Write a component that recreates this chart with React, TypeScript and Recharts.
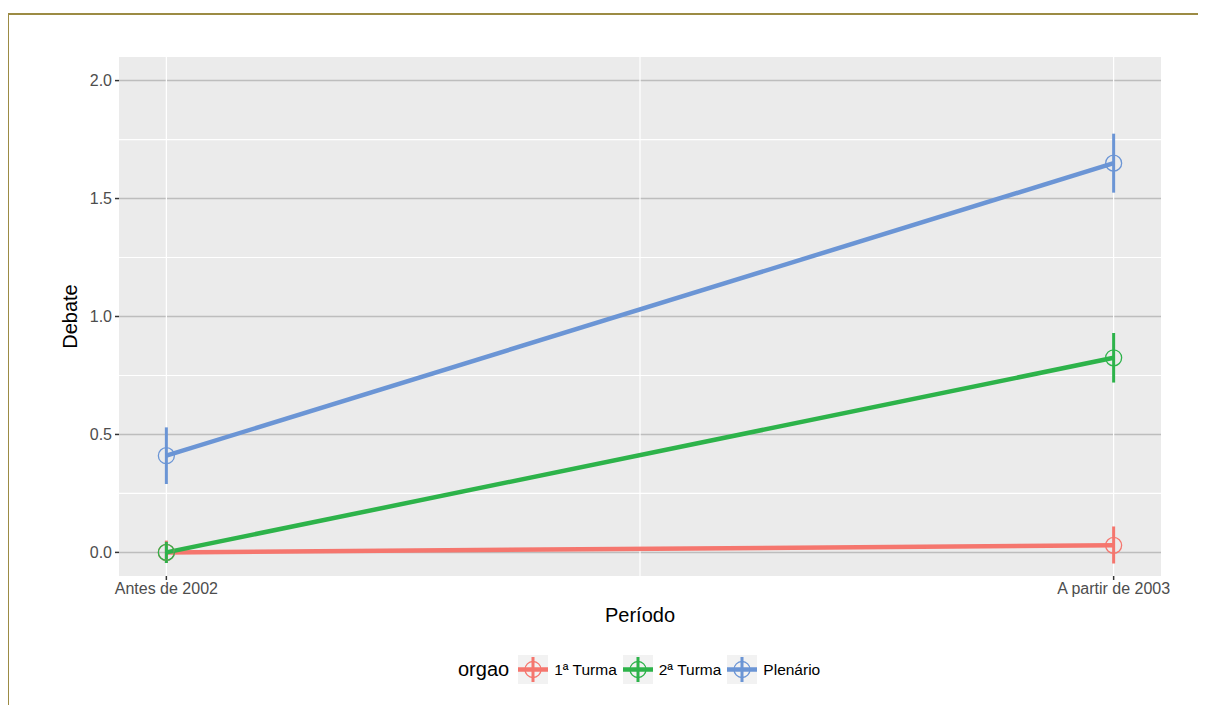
import React from "react";
import {
  ComposedChart,
  Line,
  XAxis,
  YAxis,
  CartesianGrid,
  ErrorBar,
} from "recharts";

// categories (x positions 0 and 1 on a numeric axis)
const periods = ["Antes de 2002", "A partir de 2003"];

// series values + confidence bounds
const turma1 = [0, 0.03];
const turma1Lo = [-0.045, -0.047];
const turma1Hi = [0.05, 0.11];

const turma2 = [0, 0.825];
const turma2Lo = [-0.045, 0.72];
const turma2Hi = [0.045, 0.93];

const plenario = [0.41, 1.65];
const plenarioLo = [0.29, 1.525];
const plenarioHi = [0.53, 1.775];

const yTicks = [0, 0.5, 1, 1.5, 2];
const yMinor = [0.25, 0.75, 1.25, 1.75];

const FONT = "'Liberation Sans', Arial, Helvetica, sans-serif";

const series = [
  { name: "1ª Turma", color: "#F5766E", vals: turma1, lo: turma1Lo, hi: turma1Hi },
  { name: "2ª Turma", color: "#2DB34A", vals: turma2, lo: turma2Lo, hi: turma2Hi },
  { name: "Plenário", color: "#6B95D5", vals: plenario, lo: plenarioLo, hi: plenarioHi },
];

function buildData(vals: number[], lo: number[], hi: number[]) {
  return vals.map((v, i) => ({
    x: i,
    y: v,
    err: [v - lo[i], hi[i] - v],
  }));
}

function LegendKey({ color }: { color: string }) {
  return (
    <svg width={30} height={29} style={{ display: "block" }}>
      <rect x={0} y={0} width={30} height={29} fill="#f2f2f2" />
      <line x1={0} x2={30} y1={14.5} y2={14.5} stroke={color} strokeWidth={4.5} />
      <line x1={15} x2={15} y1={2} y2={27} stroke={color} strokeWidth={3} />
      <circle cx={15} cy={14.5} r={8} fill="none" stroke={color} strokeWidth={1.3} />
    </svg>
  );
}

export default function App() {
  return (
    <div style={{ position: "relative", width: 1190, height: 697, fontFamily: FONT }}>
      <div
        style={{
          position: "absolute",
          left: -1,
          top: 5,
          width: 1199,
          height: 692,
          borderTop: "2px solid #9c8b44",
          borderLeft: "2px solid #9c8b44",
          boxSizing: "border-box",
        }}
      />
      <div style={{ position: "absolute", left: 0, top: 0 }}>
        <ComposedChart
          width={1198}
          height={697}
          margin={{ top: 49, right: 45, bottom: 79, left: 0 }}
        >
          <CartesianGrid
            fill="#ebebeb"
            stroke="#bdbdbd"
            strokeWidth={1.5}
            vertical={false}
            horizontalValues={yTicks}
          />
          <CartesianGrid
            stroke="#ffffff"
            strokeWidth={1.2}
            horizontalValues={yMinor}
            verticalValues={[0, 0.5, 1]}
          />
          <XAxis
            type="number"
            dataKey="x"
            domain={[-0.05, 1.05]}
            ticks={[0, 1]}
            allowDataOverflow
            tickFormatter={(v: number) => periods[v]}
            axisLine={false}
            tickSize={4}
            tickMargin={3}
            tickLine={{ stroke: "#333333", strokeWidth: 1.5 }}
            tick={{ fill: "#4d4d4d", fontSize: 16, fontFamily: FONT }}
            height={50}
            label={{
              value: "Período",
              position: "insideBottom",
              offset: 4,
              style: { fill: "#000", fontSize: 20, fontFamily: FONT },
            }}
          />
          <YAxis
            type="number"
            domain={[-0.1, 2.1]}
            ticks={yTicks}
            allowDataOverflow
            tickFormatter={(v: number) => v.toFixed(1)}
            axisLine={false}
            width={111}
            tickSize={4}
            tickMargin={3}
            tickLine={{ stroke: "#333333", strokeWidth: 1.5 }}
            tick={{ fill: "#4d4d4d", fontSize: 16, fontFamily: FONT }}
            label={{
              value: "Debate",
              angle: -90,
              position: "insideLeft",
              offset: 62,
              style: { fill: "#000", fontSize: 20, fontFamily: FONT, textAnchor: "middle" },
            }}
          />
          {series.map((s) => (
            <Line
              key={s.name}
              data={buildData(s.vals, s.lo, s.hi)}
              dataKey="y"
              name={s.name}
              type="linear"
              stroke={s.color}
              strokeWidth={4.5}
              dot={{ r: 8, fill: "none", stroke: s.color, strokeWidth: 1.3 }}
              activeDot={false}
              isAnimationActive={false}
            >
              <ErrorBar
                dataKey="err"
                direction="y"
                width={0}
                stroke={s.color}
                strokeWidth={3}
                isAnimationActive={false}
              />
            </Line>
          ))}
        </ComposedChart>
      </div>
      <div
        style={{
          position: "absolute",
          top: 647,
          left: 450,
          display: "flex",
          alignItems: "center",
          height: 29,
        }}
      >
        <span style={{ fontSize: 20, color: "#000", marginRight: 9 }}>orgao</span>
        {series.map((s) => (
          <div key={s.name} style={{ display: "flex", alignItems: "center", marginRight: 6 }}>
            <LegendKey color={s.color} />
            <span style={{ fontSize: 15.5, color: "#000", marginLeft: 6 }}>{s.name}</span>
          </div>
        ))}
      </div>
    </div>
  );
}
